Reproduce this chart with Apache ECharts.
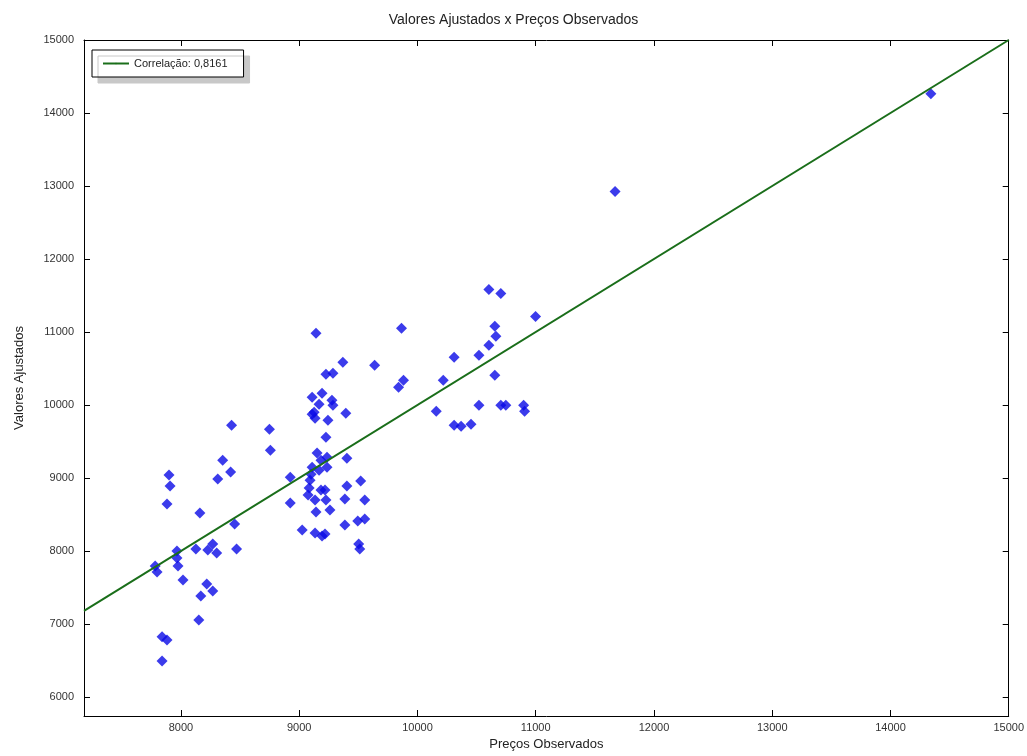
<!DOCTYPE html>
<html>
<head>
<meta charset="utf-8">
<script src="https://cdn.jsdelivr.net/npm/echarts@6/dist/echarts.min.js"></script>
<style>html,body{margin:0;background:#fff}#chart{width:1027px;height:756px}</style>
</head>
<body>
<div id="chart"></div>
<script>
const observados = [7782,7798,7840,7882,7840,7899,7908,7882,7966,7966,7975,8017,8126,8160,8168,8151,8218,8227,8269,8269,8302,8311,8353,8420,8428,8454,8470,8748,8756,8924,8924,9025,9100,9092,9084,9075,9109,9109,9109,9142,9126,9134,9151,9134,9142,9134,9168,9184,9168,9184,9218,9193,9193,9226,9243,9226,9235,9235,9218,9226,9260,9285,9277,9285,9369,9394,9403,9403,9386,9386,9495,9520,9503,9512,9554,9554,9638,9840,9882,9865,10159,10218,10310,10310,10369,10453,10520,10520,10604,10604,10654,10663,10654,10705,10705,10747,10898,10906,10999,11671,14342];
const ajustados = [7795,7713,6824,6782,6495,9040,8890,8643,8000,7904,7795,7603,8027,8520,7384,7056,7549,8014,8096,7453,7973,8985,9245,9081,9724,8369,8027,9669,9382,9012,8657,8287,9053,8971,8862,8766,9149,9874,10107,10982,9901,9819,9341,8698,8533,8246,10011,8835,9108,9245,8233,8205,10162,10421,9792,9560,9286,9149,8835,8698,8561,10435,10066,9997,10586,9888,9272,8889,8711,8356,8410,8958,8096,8027,8698,8438,10545,10244,10339,11050,9915,10339,10654,9724,9710,9738,9997,10681,11584,10818,11078,10941,10408,9997,11529,9997,9997,9915,11214,12925,14265];
const xTicks = [8000,9000,10000,11000,12000,13000,14000,15000];
const yTicks = [6000,7000,8000,9000,10000,11000,12000,13000,14000,15000];
const linha = [[7180,7180],[15000,15000]];

const chart = echarts.init(document.getElementById('chart'));
const lbl = {color:'#333', fontSize:11, fontFamily:'Liberation Sans', formatter: v => String(v)};
const axisBase = {
  axisLine:{show:true, onZero:false, lineStyle:{color:'#000'}},
  axisTick:{show:true, inside:true, length:6, lineStyle:{color:'#000'}},
  splitLine:{show:false}
};
chart.setOption({
  animation:false,
  title:{text:'Valores Ajustados x Preços Observados', left:'center', top:8,
    textStyle:{fontSize:14, fontWeight:'normal', color:'#222', fontFamily:'Liberation Sans'}},
  legend:{left:92, top:50, orient:'horizontal', data:['Correlação: 0,8161'],
    backgroundColor:'#fff', borderColor:'#000', borderWidth:1, padding:[8,16,8,10],
    shadowColor:'#c8c8c8', shadowOffsetX:6, shadowOffsetY:6, shadowBlur:0,
    itemWidth:26, itemHeight:2, textStyle:{fontSize:11, color:'#222', fontFamily:'Liberation Sans'}},
  grid:{left:84, right:11, top:40, bottom:39},
  xAxis:[
    Object.assign({type:'value', min:7180, max:15000, name:'Preços Observados', nameLocation:'middle', nameGap:22,
      nameTextStyle:{fontSize:13, color:'#222', fontFamily:'Liberation Sans'},
      axisLabel:Object.assign({customValues:xTicks, margin:6}, lbl)}, axisBase,
      {axisTick:Object.assign({}, axisBase.axisTick, {customValues:xTicks})}),
    Object.assign({type:'value', position:'top', min:7180, max:15000, axisLabel:{show:false}}, axisBase,
      {axisTick:Object.assign({}, axisBase.axisTick, {customValues:xTicks})})
  ],
  yAxis:[
    Object.assign({type:'value', min:5740, max:15000, name:'Valores Ajustados', nameLocation:'middle', nameGap:58,
      nameTextStyle:{fontSize:13, color:'#222', fontFamily:'Liberation Sans'},
      axisLabel:Object.assign({customValues:yTicks, margin:10}, lbl)}, axisBase,
      {axisTick:Object.assign({}, axisBase.axisTick, {customValues:yTicks})}),
    Object.assign({type:'value', position:'right', min:5740, max:15000, axisLabel:{show:false}}, axisBase,
      {axisTick:Object.assign({}, axisBase.axisTick, {customValues:yTicks})})
  ],
  series:[
    {type:'scatter', name:'pontos', symbol:'diamond', symbolSize:11, itemStyle:{color:'#0a0ae6'},
      data:observados.map((v,i)=>[v, ajustados[i]])},
    {type:'line', name:'Correlação: 0,8161', data:linha, symbol:'none', lineStyle:{color:'#1a6e1a', width:2},
      itemStyle:{color:'#1a6e1a'}}
  ]
});
</script>
</body>
</html>
